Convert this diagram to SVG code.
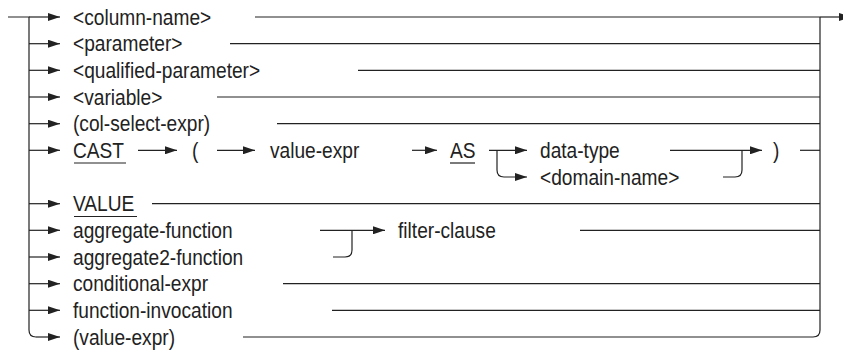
<svg xmlns="http://www.w3.org/2000/svg" width="843" height="350" viewBox="0 0 843 350">
<style>
.t{font-family:"Liberation Sans",Arial,sans-serif;font-size:22px;fill:#222}
.c{fill:none;stroke:#222;stroke-width:1.2}
.a{marker-end:url(#ah)}
</style>
<defs>
<marker id="ah" markerUnits="userSpaceOnUse" markerWidth="12" markerHeight="8" refX="12" refY="4" orient="auto" viewBox="0 0 12 8">
<path d="M0,0 L12,4 L0,8 z" fill="#222"/>
</marker>
</defs>
<rect width="843" height="350" fill="#fff"/>
<g id="connectors">
<path class="c" d="M8,17 H29 V330 Q29,337 36,337"/>
<path class="c a" d="M29,17 H60"/>
<path class="c a" d="M29,43.7 H60"/>
<path class="c a" d="M29,70.3 H60"/>
<path class="c a" d="M29,97 H60"/>
<path class="c a" d="M29,123.7 H60"/>
<path class="c a" d="M29,150.3 H60"/>
<path class="c a" d="M29,203.7 H60"/>
<path class="c a" d="M29,230.3 H60"/>
<path class="c a" d="M29,257 H60"/>
<path class="c a" d="M29,283.7 H60"/>
<path class="c a" d="M29,310.3 H60"/>
<path class="c a" d="M36,337 H60"/>
<path class="c" d="M255,17 H820"/>
<path class="c a" d="M820,17 H851"/>
<path class="c" d="M230,43.7 H820"/>
<path class="c" d="M358,70.3 H820"/>
<path class="c" d="M217,97 H820"/>
<path class="c" d="M277,123.7 H820"/>
<path class="c a" d="M138,150.3 H177"/>
<path class="c a" d="M217,150.3 H255"/>
<path class="c a" d="M412,150.3 H437"/>
<path class="c a" d="M489,150.3 H527"/>
<path class="c a" d="M497,150.3 V170 Q497,177 504,177 H527"/>
<path class="c a" d="M670,150.3 H762"/>
<path class="c" d="M723,177 H735 Q742,177 742,170 V150.3"/>
<path class="c" d="M800,150.3 H820"/>
<path class="c" d="M152,203.7 H820"/>
<path class="c a" d="M320,230.3 H385"/>
<path class="c" d="M333,257 H345 Q352,257 352,250 V230.3"/>
<path class="c" d="M580,230.3 H820"/>
<path class="c" d="M283,283.7 H820"/>
<path class="c" d="M332,310.3 H820"/>
<path class="c" d="M243,337 H813 Q820,337 820,330 V17"/>
<path class="c" d="M74,163 H126"/>
<path class="c" d="M450,163 H475"/>
<path class="c" d="M74,216.5 H137"/>
</g>
<g id="n-column-name"><text class="t" transform="translate(73,24.5) scale(0.87,1)">&lt;column-name&gt;</text></g>
<g id="n-parameter"><text class="t" transform="translate(73,51.2) scale(0.87,1)">&lt;parameter&gt;</text></g>
<g id="n-qualified-parameter"><text class="t" transform="translate(73,77.8) scale(0.87,1)">&lt;qualified-parameter&gt;</text></g>
<g id="n-variable"><text class="t" transform="translate(73,104.5) scale(0.87,1)">&lt;variable&gt;</text></g>
<g id="n-col-select-expr"><text class="t" transform="translate(73,131.2) scale(0.87,1)">(col-select-expr)</text></g>
<g id="n-cast"><text class="t" transform="translate(73,157.8) scale(0.87,1)">CAST</text></g>
<g id="n-lparen"><text class="t" transform="translate(192,157.8) scale(0.87,1)">(</text></g>
<g id="n-value-expr"><text class="t" transform="translate(270,157.8) scale(0.87,1)">value-expr</text></g>
<g id="n-as"><text class="t" transform="translate(450,157.8) scale(0.87,1)">AS</text></g>
<g id="n-data-type"><text class="t" transform="translate(540,157.8) scale(0.87,1)">data-type</text></g>
<g id="n-domain-name"><text class="t" transform="translate(540,184.5) scale(0.87,1)">&lt;domain-name&gt;</text></g>
<g id="n-rparen"><text class="t" transform="translate(773,157.8) scale(0.87,1)">)</text></g>
<g id="n-value"><text class="t" transform="translate(73,211.2) scale(0.87,1)">VALUE</text></g>
<g id="n-aggregate-function"><text class="t" transform="translate(73,237.8) scale(0.87,1)">aggregate-function</text></g>
<g id="n-filter-clause"><text class="t" transform="translate(398,237.8) scale(0.87,1)">filter-clause</text></g>
<g id="n-aggregate2-function"><text class="t" transform="translate(73,264.5) scale(0.87,1)">aggregate2-function</text></g>
<g id="n-conditional-expr"><text class="t" transform="translate(73,291.2) scale(0.87,1)">conditional-expr</text></g>
<g id="n-function-invocation"><text class="t" transform="translate(73,317.8) scale(0.87,1)">function-invocation</text></g>
<g id="n-value-expr2"><text class="t" transform="translate(73,344.5) scale(0.87,1)">(value-expr)</text></g>
</svg>
